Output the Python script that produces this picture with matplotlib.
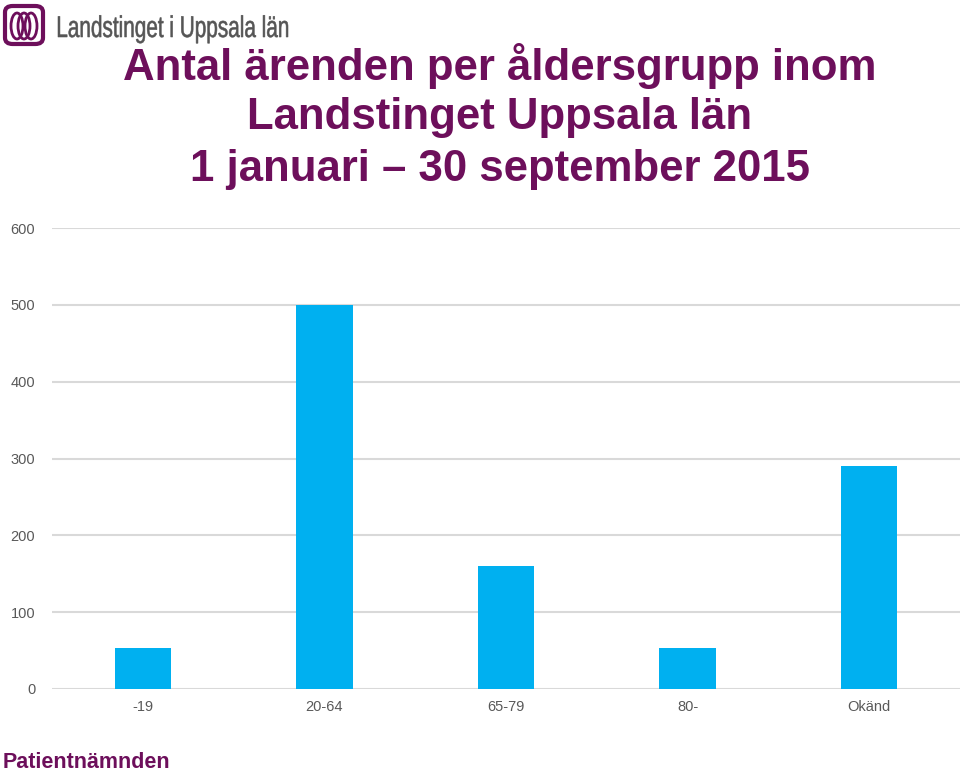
import matplotlib
matplotlib.use("Agg")
import matplotlib.pyplot as plt
from matplotlib.patches import FancyBboxPatch, Ellipse, PathPatch
from matplotlib.textpath import TextPath
from matplotlib.font_manager import FontProperties
from matplotlib.transforms import Affine2D

categories = ["-19", "20-64", "65-79", "80-", "Okänd"]
values = [53, 500, 160, 53, 290]
yticks = [0, 100, 200, 300, 400, 500, 600]

purple = "#6D0F5B"
bar_color = "#00B0F0"
grid_color = "#D9D9D9"
tick_color = "#595959"

plt.rcParams['font.family'] = ['Liberation Sans', 'DejaVu Sans']

W, H = 960, 772
fig = plt.figure(figsize=(W/100, H/100), dpi=100)
ax = fig.add_axes([52/W, 1-689/H, 1-52/W, (689-228)/H])

x = list(range(len(categories)))
ax.bar(x, values, width=0.31, color=bar_color, zorder=3)
ax.set_xlim(-0.5, len(categories)-0.5)
ax.set_ylim(0, 600)
ax.set_yticks(yticks)
ax.set_xticks(x)
ax.set_xticklabels(categories)
ax.yaxis.grid(True, color=grid_color, linewidth=1.5, zorder=0)
for s in ax.spines.values():
    s.set_visible(False)
ax.tick_params(axis='both', length=0, colors=tick_color, labelsize=10.5)
ax.tick_params(axis='y', pad=12)
ax.tick_params(axis='x', pad=8)

# Title
title_lines = ["Antal ärenden per åldersgrupp inom", "Landstinget Uppsala län", "1 januari – 30 september 2015"]
for i, t in enumerate(title_lines):
    fig.text(500/W, 1-(66+51.5*i)/H, t, ha='center', va='center',
             fontsize=31.5, fontweight='bold', color=purple)

# Logo
logo = FancyBboxPatch((5/W, 1-44/H), 38/W, 38/H,
                      boxstyle="round,pad=0,rounding_size=0.008",
                      transform=fig.transFigure, facecolor='white',
                      edgecolor=purple, linewidth=3)
fig.patches.append(logo)
for cx in (17, 24, 31):
    fig.patches.append(Ellipse((cx/W, 1-26/H), 12/W, 26/H,
                               transform=fig.transFigure, facecolor='none',
                               edgecolor=purple, linewidth=2))

# Condensed logo text drawn as a horizontally compressed text path (pixel coords)
tp = TextPath((0, 0), "Landstinget i Uppsala län", size=30,
              prop=FontProperties(family='Liberation Sans'))
ext = tp.get_extents()
sx = 230 / ext.width
tr = (Affine2D().translate(-ext.x0, 0).scale(sx, 1.0)
      .translate(58, H - 37).scale(1/100) + fig.dpi_scale_trans)
fig.patches.append(PathPatch(tp, transform=tr, facecolor='#555555',
                             edgecolor='#555555', linewidth=0.4))

fig.text(3/W, 1-762/H, "Patientnämnden", ha='left', va='center',
         fontsize=15.5, fontweight='bold', color=purple)

fig.savefig("out.png", dpi=100)
